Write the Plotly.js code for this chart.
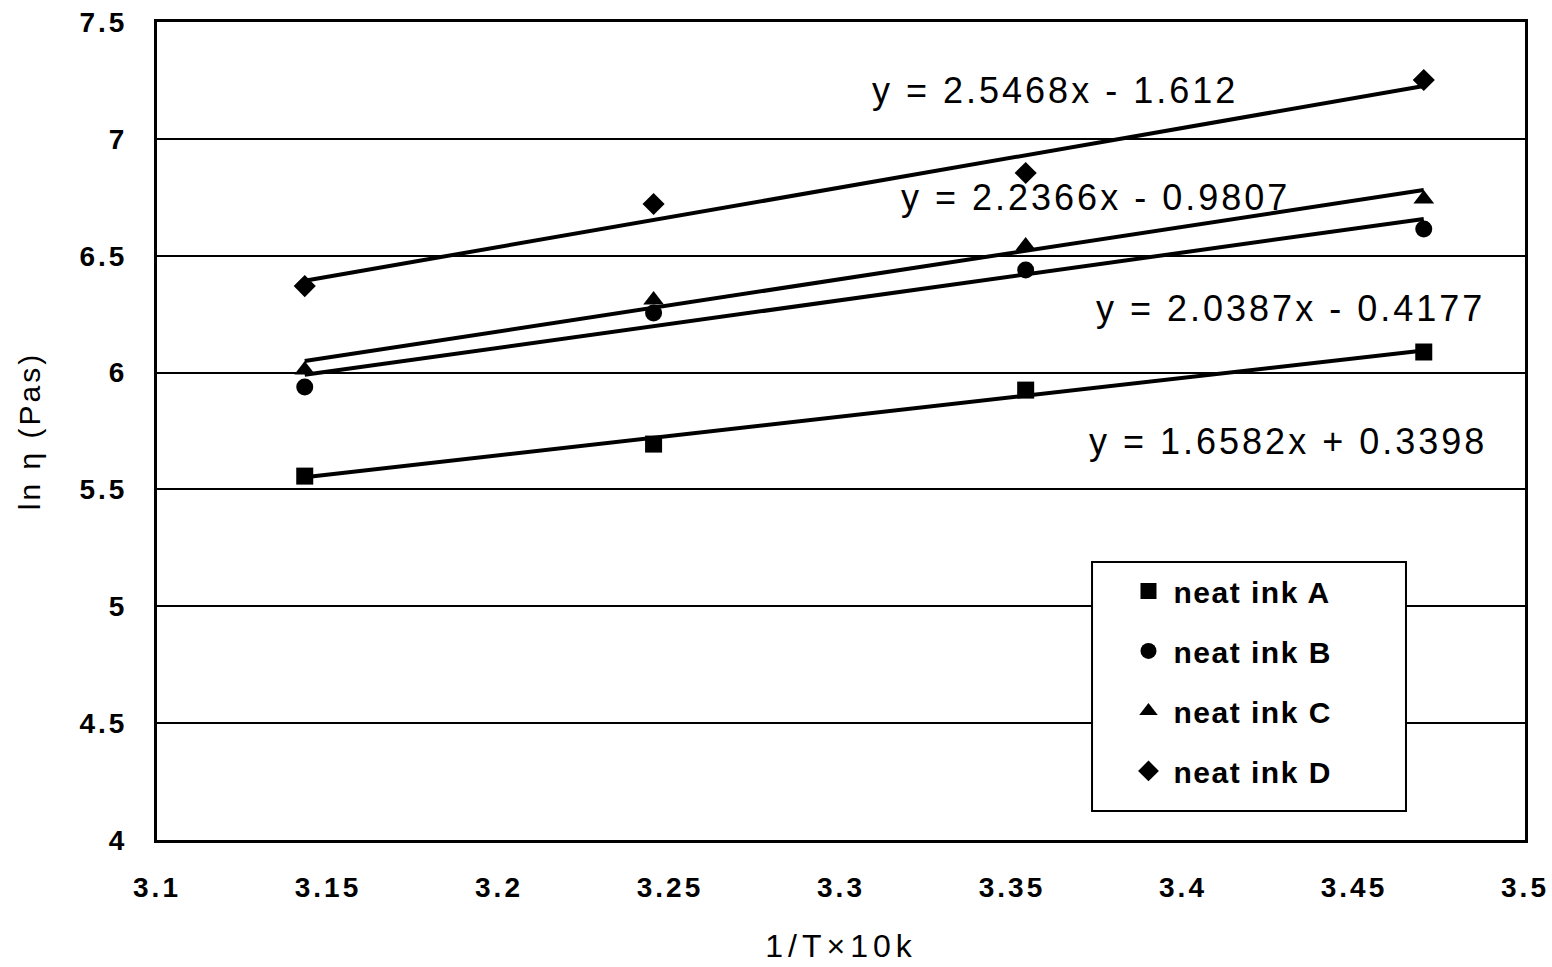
<!DOCTYPE html>
<html>
<head>
<meta charset="utf-8">
<script src="https://cdn.plot.ly/plotly-3.0.1.min.js"></script>
<style>
html,body{margin:0;padding:0;background:#fff;}
#chart{width:1552px;height:967px;}
.xtick text, .ytick text{letter-spacing:3px;}
.annotation-text{letter-spacing:3px;}
.legendtext{letter-spacing:1.5px;}
.xtitle{letter-spacing:5px;}
.ytitle{letter-spacing:3px;}
</style>
</head>
<body>
<div id="chart"></div>
<script>
// 1/T x 1000 (K^-1) for the four temperatures
const invT = [3.1432, 3.2452, 3.354, 3.4704];
const seriesNames = ["neat ink A", "neat ink B", "neat ink C", "neat ink D"];
const inkA = [5.557, 5.694, 5.925, 6.088];
const inkB = [5.938, 6.255, 6.439, 6.614];
const inkC = [6.011, 6.310, 6.542, 6.743];
const inkD = [6.370, 6.721, 6.854, 7.252];
// linear trendline coefficients shown on the chart
const slopes = [1.6582, 2.0387, 2.2366, 2.5468];
const intercepts = [0.3398, -0.4177, -0.9807, -1.612];
const eqLabels = ["y = 1.6582x + 0.3398", "y = 2.0387x - 0.4177", "y = 2.2366x - 0.9807", "y = 2.5468x - 1.612"];
const eqX = [3.4307, 3.4313, 3.3743, 3.3626];
const eqY = [5.703, 6.276, 6.751, 7.209];
const xTicks = [3.1, 3.15, 3.2, 3.25, 3.3, 3.35, 3.4, 3.45, 3.5];
const yTicks = [4, 4.5, 5, 5.5, 6, 6.5, 7, 7.5];

const ys = [inkA, inkB, inkC, inkD];
const symbols = ["square", "circle", "triangle-up", "diamond"];
const sizes = [17, 17, 18, 17];
const font = "Liberation Sans, Arial, sans-serif";

const traces = [];
// trendlines
for (let i = 0; i < 4; i++) {
  const xs = [invT[0], invT[invT.length - 1]];
  traces.push({
    x: xs, y: xs.map(v => slopes[i] * v + intercepts[i]),
    mode: "lines", line: {color: "#000", width: 4}, showlegend: false, hoverinfo: "skip"
  });
}
for (let i = 0; i < 4; i++) {
  traces.push({
    x: invT, y: ys[i], name: seriesNames[i], mode: "markers",
    legendgroup: "g" + i,
    marker: {symbol: symbols[i], size: sizes[i], color: "#000"}
  });
}

const annotations = eqLabels.map((t, i) => ({
  x: eqX[i], y: eqY[i], xref: "x", yref: "y", text: t, showarrow: false,
  font: {family: font, size: 36, color: "#000"}
}));

const layout = {
  width: 1552, height: 967,
  margin: {l: 157, r: 27, t: 22, b: 127},
  paper_bgcolor: "#fff", plot_bgcolor: "#fff",
  showlegend: true,
  legend: {
    x: 0.7065, y: 0.3363, xanchor: "left", yanchor: "top",
    bgcolor: "rgba(0,0,0,0)", borderwidth: 0,
    font: {family: font, size: 30, color: "#000", weight: "bold"},
    traceorder: "grouped", tracegroupgap: 18,
    itemwidth: 40
  },
  shapes: [{
    type: "rect", xref: "paper", yref: "paper",
    x0: 0.6835, x1: 0.913, y0: 0.0355, y1: 0.3399,
    fillcolor: "#fff", line: {color: "#000", width: 2}, layer: "above"
  }],
  xaxis: {
    range: [3.1, 3.5], tickvals: xTicks, ticktext: xTicks.map(String),
    showgrid: false, zeroline: false, showline: true, linecolor: "#000", linewidth: 3, mirror: true,
    ticks: "", ticklabelstandoff: 20,
    tickfont: {family: font, size: 28, color: "#000", weight: "bold"},
    title: {text: "1/T×10k", font: {family: font, size: 32, color: "#000"}, standoff: 34}
  },
  yaxis: {
    range: [4, 7.5], tickvals: yTicks, ticktext: yTicks.map(String),
    showgrid: true, gridcolor: "#000", gridwidth: 2,
    zeroline: false, showline: true, linecolor: "#000", linewidth: 3, mirror: true,
    ticks: "", ticklabelstandoff: 21,
    tickfont: {family: font, size: 28, color: "#000", weight: "bold"},
    title: {text: "ln η (Pas)", font: {family: font, size: 30, color: "#000"}, standoff: 30}
  },
  annotations: annotations
};

Plotly.newPlot("chart", traces, layout, {displayModeBar: false, staticPlot: true});
</script>
</body>
</html>
